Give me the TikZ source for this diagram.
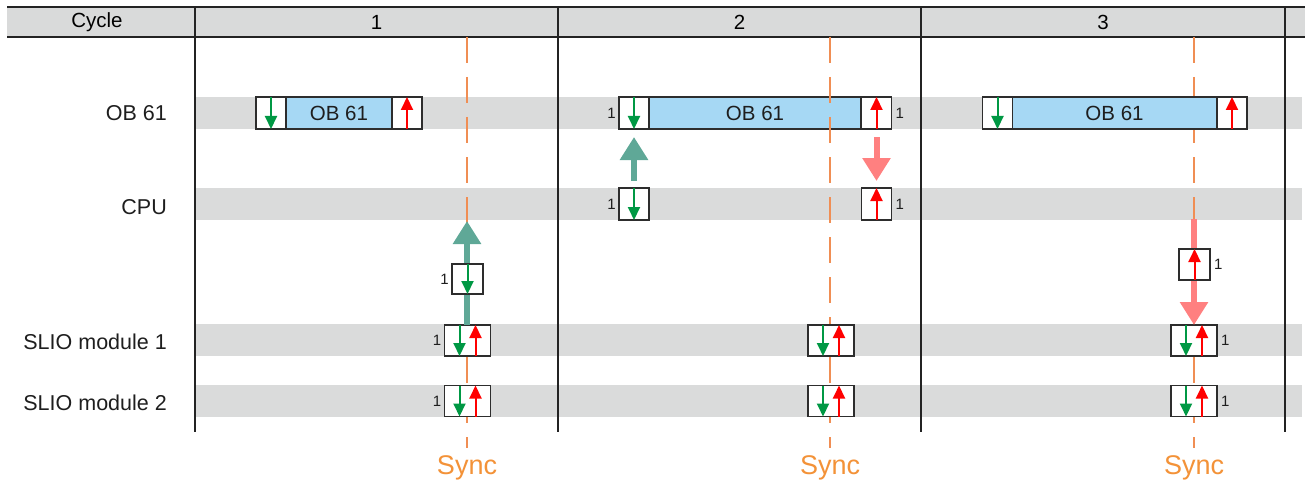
\documentclass[tikz,border=0pt]{standalone}
\usepackage{fontspec}
\setmainfont{Liberation Sans}
\usetikzlibrary{arrows.meta}
\definecolor{bandgray}{RGB}{218,219,219}
\definecolor{headgray}{RGB}{217,218,218}
\definecolor{boxgray}{RGB}{45,45,45}
\definecolor{linegray}{RGB}{35,35,35}
\definecolor{txtgray}{RGB}{30,30,30}
\definecolor{obblue}{RGB}{166,216,244}
\definecolor{sgreen}{RGB}{0,152,68}
\definecolor{sred}{RGB}{255,0,0}
\definecolor{bgreen}{RGB}{95,168,151}
\definecolor{bred}{RGB}{255,128,128}
\definecolor{syncline}{RGB}{240,142,84}
\definecolor{synctext}{RGB}{243,146,56}
\newcommand{\mainsize}{\fontsize{20.5}{24}\selectfont}
\newcommand{\rowsize}{\fontsize{21.5}{25}\selectfont}
\newcommand{\smallsize}{\fontsize{15}{17}\selectfont}
\newcommand{\syncsize}{\fontsize{27}{30}\selectfont}
\begin{document}
\begin{tikzpicture}[x=1pt,y=-1pt,
  cell/.style={draw=boxgray, line width=1.5pt, fill=white, minimum width=30pt, minimum height=32pt, inner sep=0pt, outer sep=0pt},
  obbody/.style={cell, fill=obblue, font=\mainsize, text=txtgray},
  dcell/.style={cell, minimum width=46pt, minimum height=31pt},
  mcell/.style={cell, minimum width=31pt, minimum height=30pt},
  garrow/.style={draw=sgreen, line width=2pt, -{Triangle[width=12pt,length=13pt]}},
  rarrow/.style={draw=sred, line width=2pt, -{Triangle[width=12pt,length=13pt]}},
  bigg/.style={draw=bgreen, line width=6pt, -{Triangle[width=27pt,length=23pt]}},
  bigr/.style={draw=bred, line width=6pt, -{Triangle[width=27pt,length=23pt]}},
  syncdash/.style={draw=syncline, line width=2pt, dash pattern=on 26pt off 14pt},
  synclbl/.style={font=\syncsize, text=synctext, inner sep=0pt},
  onel/.style={font=\smallsize, text=txtgray, inner sep=0pt, anchor=east},
  oner/.style={font=\smallsize, text=txtgray, inner sep=0pt, anchor=west},
  rowlbl/.style={anchor=east, font=\rowsize, text=txtgray, inner sep=0pt},
  headlbl/.style={font=\mainsize, text=black, inner sep=0pt},
  band/.style={fill=bandgray, draw=none},
  divider/.style={draw=linegray, line width=1.5pt},
  headline/.style={draw=linegray, line width=2pt}
]
\useasboundingbox (0,0) rectangle (1305,484);

% bands
\fill[band] (195,97) rectangle (1302,129);
\fill[band] (195,188) rectangle (1302,220);
\fill[band] (195,324) rectangle (1302,356);
\fill[band] (195,385) rectangle (1302,417);

% header
\fill[headgray] (7,7) rectangle (1305,37);
\draw[headline] (7,7) -- (1305,7);
\draw[headline] (7,37) -- (1305,37);
\node[headlbl] (hc) at (97,22) {Cycle};
\node[headlbl] (h1) at (376.5,22) {1};
\node[headlbl] (h2) at (739.5,22) {2};
\node[headlbl] (h3) at (1103,22) {3};

% dividers
\foreach \x in {195,558,921,1285} \draw[divider] (\x,7) -- (\x,432);

% row labels
\node[rowlbl] (lob) at (167,113) {OB 61};
\node[rowlbl] (lcpu) at (167,207) {CPU};
\node[rowlbl] (ls1) at (167,342) {SLIO module 1};
\node[rowlbl] (ls2) at (167,403) {SLIO module 2};

% OB 61 cycle 1 and 2
\node[obbody, minimum width=106pt] (ob1) at (339,113) {OB 61};
\node[cell] (ob1L) at (271,113) {};
\node[cell] (ob1R) at (407,113) {};
\node[obbody, minimum width=212pt] (ob2) at (755,113) {OB 61};
\node[cell] (ob2L) at (634,113) {};
\node[cell] (ob2R) at (876.5,113) {};

% sync lines
\coordinate (sy1a) at (467,37);  \coordinate (sy1b) at (467,448);
\coordinate (sy2a) at (830,37);  \coordinate (sy2b) at (830,448);
\coordinate (sy3a) at (1194,37); \coordinate (sy3b) at (1194,448);
\draw[syncdash] (sy1a) -- (sy1b);
\draw[syncdash] (sy2a) -- (sy2b);
\draw[syncdash] (sy3a) -- (sy3b);
\node[synclbl] (sync1) at (467,468) {Sync};
\node[synclbl] (sync2) at (830,468) {Sync};
\node[synclbl] (sync3) at (1194,468) {Sync};

% OB 61 cycle 3
\node[obbody, minimum width=205pt] (ob3) at (1114.5,113) {OB 61};
\node[cell] (ob3L) at (997.5,113) {};
\node[cell] (ob3R) at (1232,113) {};

% CPU cycle 2
\node[cell] (cpuL) at (634,204) {};
\node[cell] (cpuR) at (876.5,204) {};

% big arrows
\draw[bigg] ([yshift=7pt]cpuL.north) -- ([yshift=-8pt]ob2L.south);
\draw[bigr] ([yshift=-8pt]ob2R.south) -- ([yshift=7pt]cpuR.north);
\coordinate (t1) at (467,221);
\coordinate (t3) at (1194,219);
\node[dcell] (s1a) at (467.5,340.5) {};
\node[dcell] (s1b) at (467.5,401) {};
\node[dcell] (s2a) at (831,340.5) {};
\node[dcell] (s2b) at (831,401) {};
\node[dcell] (s3a) at (1194,340.5) {};
\node[dcell] (s3b) at (1194,401) {};
\draw[bigg] (s1a.north -| t1) -- (t1);
\draw[bigr] (t3) -- (s3a.north -| t3);

% mid boxes
\node[mcell] (m1) at (467.5,279) {};
\node[mcell, minimum height=31pt] (m3) at (1194.5,264.5) {};

% small arrows
\foreach \n in {ob1L,ob2L,ob3L,cpuL,m1}
  \draw[garrow] (\n.north) -- (\n.south);
\foreach \n in {ob1R,ob2R,ob3R,cpuR,m3}
  \draw[rarrow] (\n.south) -- (\n.north);
\foreach \n in {s1a,s1b,s2a,s2b,s3a,s3b}{
  \draw[garrow] ([xshift=-8pt]\n.north) -- ([xshift=-8pt]\n.south);
  \draw[rarrow] ([xshift=8pt]\n.south) -- ([xshift=8pt]\n.north);
}

% "1" labels
\node[onel] (n1) at ([xshift=-3pt]m1.west) {1};
\node[onel] (n2) at ([xshift=-3pt]s1a.west) {1};
\node[onel] (n3) at ([xshift=-3pt]s1b.west) {1};
\node[onel] (n4) at ([xshift=-3pt]ob2L.west) {1};
\node[oner] (n5) at ([xshift=4pt]ob2R.east) {1};
\node[onel] (n6) at ([xshift=-3pt]cpuL.west) {1};
\node[oner] (n7) at ([xshift=4pt]cpuR.east) {1};
\node[oner] (n8) at ([xshift=4pt]m3.east) {1};
\node[oner] (n9) at ([xshift=4pt]s3a.east) {1};
\node[oner] (n10) at ([xshift=4pt]s3b.east) {1};
\end{tikzpicture}
\end{document}
